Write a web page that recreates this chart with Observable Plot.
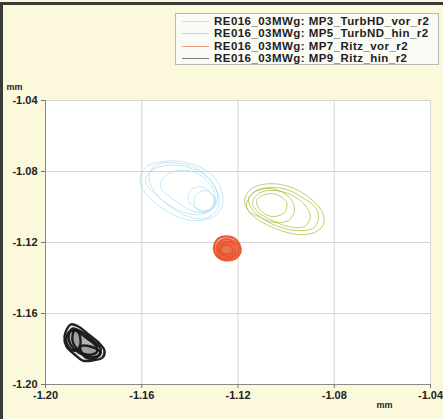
<!DOCTYPE html>
<html>
<head>
<meta charset="utf-8">
<script src="https://cdn.jsdelivr.net/npm/d3@7"></script>
<script src="https://cdn.jsdelivr.net/npm/@observablehq/plot@0.6"></script>
<style>
  html, body { margin: 0; padding: 0; }
  body { width: 443px; height: 419px; overflow: hidden; }
  #wrap { position: relative; width: 443px; height: 419px; background: #fbf8dc; font-family: "Liberation Sans", Arial, sans-serif; }
  #wrap svg { position: absolute; left: 0; top: 0; }
  #bt { position: absolute; left: 0; top: 2px; width: 443px; height: 3px; background: #3a3a3a; }
  #bl { position: absolute; left: 0; top: 2px; width: 3px; height: 417px; background: #3a3a3a; }
  #legend { position: absolute; left: 175px; top: 13px; width: 264px; height: 52px; background: #fbfbf5; border: 1px solid #b8b8b8; box-sizing: border-box; overflow: hidden; }
  .row { position: absolute; left: 0; height: 12px; width: 100%; }
  .row .sw { position: absolute; left: 6px; top: 6px; width: 27px; height: 0; border-top: 1px solid; }
  .row .lb { position: absolute; left: 38px; top: 0; font-size: 11.5px; font-weight: bold; color: #1e1e1e; white-space: nowrap; line-height: 12px; letter-spacing: 0.45px; }
</style>
</head>
<body>
<div id="wrap"></div>
<script>
// ---- data (mm) ----
const seriesNames = [
  "RE016_03MWg: MP3_TurbHD_vor_r2",
  "RE016_03MWg: MP5_TurbND_hin_r2",
  "RE016_03MWg: MP7_Ritz_vor_r2",
  "RE016_03MWg: MP9_Ritz_hin_r2"
];
const seriesColors = ["#8fcfee", "#a3c23c", "#e8532b", "#161616"];
const xTicks = [-1.20, -1.16, -1.12, -1.08, -1.04];
const yTicks = [-1.20, -1.16, -1.12, -1.08, -1.04];
const tickLabels = ["-1.20", "-1.16", "-1.12", "-1.08", "-1.04"];

// MP3 orbit loops [x, y]
const mp3Loops = [
  [[-1.1605,-1.0823],[-1.1572,-1.0766],[-1.1514,-1.0744],[-1.1439,-1.0744],[-1.1364,-1.0772],[-1.1302,-1.0828],[-1.1269,-1.0907],[-1.1264,-1.0986],[-1.1293,-1.1048],[-1.1356,-1.1076],[-1.1431,-1.1065],[-1.1501,-1.1020],[-1.1564,-1.0952],[-1.1601,-1.0885]],
  [[-1.1584,-1.0839],[-1.1555,-1.0789],[-1.1497,-1.0766],[-1.1422,-1.0772],[-1.1356,-1.0806],[-1.1306,-1.0862],[-1.1285,-1.0941],[-1.1302,-1.1008],[-1.1356,-1.1042],[-1.1422,-1.1031],[-1.1489,-1.0986],[-1.1547,-1.0924],[-1.1580,-1.0873]],
  [[-1.1522,-1.0862],[-1.1481,-1.0806],[-1.1406,-1.0794],[-1.1339,-1.0839],[-1.1298,-1.0918],[-1.1306,-1.0997],[-1.1356,-1.1031],[-1.1414,-1.1008],[-1.1472,-1.0952],[-1.1514,-1.0907]],
  [[-1.1564,-1.0794],[-1.1522,-1.0755],[-1.1447,-1.0755],[-1.1372,-1.0783],[-1.1314,-1.0851],[-1.1281,-1.0935],[-1.1289,-1.1020],[-1.1339,-1.1065],[-1.1406,-1.1054],[-1.1472,-1.1008],[-1.1530,-1.0941],[-1.1564,-1.0873]],
  [[-1.1397,-1.0907],[-1.1356,-1.0885],[-1.1314,-1.0918],[-1.1298,-1.0975],[-1.1323,-1.1020],[-1.1372,-1.1008],[-1.1406,-1.0963]],
  [[-1.1377,-1.0935],[-1.1335,-1.0907],[-1.1293,-1.0952],[-1.1306,-1.1008],[-1.1348,-1.1031],[-1.1381,-1.0992]]
];
// MP5 orbit loops
const mp5Loops = [
  [[-1.1173,-1.0963],[-1.1148,-1.0901],[-1.1098,-1.0873],[-1.1023,-1.0873],[-1.0949,-1.0907],[-1.0890,-1.0963],[-1.0849,-1.1031],[-1.0845,-1.1099],[-1.0882,-1.1144],[-1.0949,-1.1155],[-1.1023,-1.1132],[-1.1098,-1.1087],[-1.1152,-1.1031]],
  [[-1.1156,-1.0952],[-1.1123,-1.0907],[-1.1065,-1.0890],[-1.0998,-1.0901],[-1.0940,-1.0941],[-1.0882,-1.0997],[-1.0865,-1.1065],[-1.0890,-1.1121],[-1.0957,-1.1132],[-1.1032,-1.1110],[-1.1098,-1.1065],[-1.1144,-1.1008]],
  [[-1.1165,-1.0986],[-1.1140,-1.0924],[-1.1090,-1.0896],[-1.1032,-1.0907],[-1.0982,-1.0952],[-1.0965,-1.1020],[-1.0990,-1.1076],[-1.1048,-1.1087],[-1.1115,-1.1054],[-1.1156,-1.1020]],
  [[-1.1140,-1.0975],[-1.1106,-1.0918],[-1.1048,-1.0907],[-1.0982,-1.0930],[-1.0924,-1.0986],[-1.0899,-1.1054],[-1.0924,-1.1110],[-1.0990,-1.1110],[-1.1057,-1.1076],[-1.1115,-1.1031]],
  [[-1.1123,-1.0963],[-1.1090,-1.0930],[-1.1040,-1.0930],[-1.0998,-1.0975],[-1.1007,-1.1031],[-1.1057,-1.1054],[-1.1106,-1.1020]]
];
// MP7 orbit loops
const mp7Loops = [
  [[-1.1298,-1.1211],[-1.1281,-1.1177],[-1.1248,-1.1166],[-1.1215,-1.1177],[-1.1194,-1.1211],[-1.1190,-1.1256],[-1.1210,-1.1290],[-1.1248,-1.1301],[-1.1281,-1.1285],[-1.1298,-1.1251]],
  [[-1.1289,-1.1223],[-1.1269,-1.1189],[-1.1235,-1.1183],[-1.1206,-1.1206],[-1.1198,-1.1251],[-1.1223,-1.1285],[-1.1260,-1.1290],[-1.1285,-1.1262]],
  [[-1.1281,-1.1228],[-1.1260,-1.1200],[-1.1227,-1.1200],[-1.1210,-1.1234],[-1.1219,-1.1273],[-1.1252,-1.1279],[-1.1277,-1.1256]],
  [[-1.1273,-1.1234],[-1.1252,-1.1211],[-1.1227,-1.1223],[-1.1223,-1.1256],[-1.1248,-1.1268],[-1.1269,-1.1256]]
];
// MP9 orbit loops
const mp9Loops = [
  [[-1.1896,-1.1662],[-1.1863,-1.1673],[-1.1821,-1.1718],[-1.1780,-1.1763],[-1.1755,-1.1808],[-1.1763,-1.1848],[-1.1805,-1.1865],[-1.1846,-1.1865],[-1.1879,-1.1831],[-1.1913,-1.1786],[-1.1921,-1.1730]],
  [[-1.1888,-1.1685],[-1.1846,-1.1707],[-1.1805,-1.1752],[-1.1771,-1.1797],[-1.1780,-1.1837],[-1.1821,-1.1842],[-1.1863,-1.1820],[-1.1896,-1.1775],[-1.1904,-1.1730]],
  [[-1.1879,-1.1696],[-1.1838,-1.1730],[-1.1788,-1.1786],[-1.1788,-1.1820],[-1.1830,-1.1831],[-1.1871,-1.1797],[-1.1888,-1.1752]],
  [[-1.1904,-1.1707],[-1.1871,-1.1696],[-1.1855,-1.1741],[-1.1863,-1.1797],[-1.1888,-1.1808],[-1.1913,-1.1763]],
  [[-1.1855,-1.1786],[-1.1813,-1.1786],[-1.1771,-1.1820],[-1.1796,-1.1854],[-1.1838,-1.1842]]
];

// ---- build rows ----
const allLoops = [mp3Loops, mp5Loops, mp7Loops, mp9Loops];
const rows = [];
allLoops.forEach((loops, s) => {
  loops.forEach((loop, i) => {
    loop.forEach(([x, y]) => rows.push({series: seriesNames[s], id: s + "-" + i, x, y}));
  });
});
const bySeries = s => rows.filter(r => r.series === seriesNames[s]);
const strokeW = [0.7, 0.9, 2.2, 2.4];
const strokeO = [0.75, 0.85, 0.95, 0.95];
const fillO = [0, 0, 0.35, 0.12];

const fmt = d => tickLabels[xTicks.indexOf(d)] ?? d.toFixed(2);

const chart = Plot.plot({
  width: 443,
  height: 419,
  marginLeft: 45,
  marginRight: 13,
  marginTop: 100,
  marginBottom: 35,
  style: {background: "transparent", fontFamily: "Liberation Sans, Arial, sans-serif", fontSize: "11px", fontWeight: "bold", color: "#222"},
  x: {domain: [-1.20, -1.04], ticks: xTicks, tickFormat: fmt, label: null},
  y: {domain: [-1.20, -1.04], ticks: yTicks, tickFormat: fmt, label: null},
  marks: [
    Plot.frame({fill: "white", stroke: "#c8c8c8"}),
    Plot.gridX(xTicks, {stroke: "#d6d6d6", strokeOpacity: 1}),
    Plot.gridY(yTicks, {stroke: "#d6d6d6", strokeOpacity: 1}),
    ...[0, 1, 2, 3].map(s => Plot.line(bySeries(s), {
      x: "x", y: "y", z: "id", curve: "catmull-rom-closed",
      stroke: seriesColors[s], strokeWidth: strokeW[s], strokeOpacity: strokeO[s],
      fill: fillO[s] > 0 ? seriesColors[s] : "none", fillOpacity: fillO[s]
    })),
    Plot.ruleX([-1.20], {stroke: "#8a8a8a"}),
    Plot.ruleY([-1.20], {stroke: "#8a8a8a"}),
    Plot.axisX(xTicks, {tickSize: 4, tickPadding: 3, stroke: "#777", tickFormat: fmt, fill: "#222"}),
    Plot.axisY(yTicks, {tickSize: 4, tickPadding: 4, stroke: "#777", tickFormat: fmt, fill: "#222"}),
    Plot.text(["mm"], {frameAnchor: "top-left", dx: -39, dy: -17, textAnchor: "start", fontSize: 9, fill: "#222"}),
    Plot.text(["mm"], {frameAnchor: "bottom-right", dx: -46, dy: 23, textAnchor: "middle", fontSize: 9, fill: "#222"})
  ]
});

const wrap = document.getElementById("wrap");
wrap.appendChild(chart);
const bt = document.createElement("div"); bt.id = "bt"; wrap.appendChild(bt);
const bl = document.createElement("div"); bl.id = "bl"; wrap.appendChild(bl);

const legend = document.createElement("div");
legend.id = "legend";
seriesNames.forEach((name, i) => {
  const row = document.createElement("div");
  row.className = "row";
  row.style.top = (1 + i * 12.3) + "px";
  const sw = document.createElement("div");
  sw.className = "sw";
  sw.style.borderTopColor = seriesColors[i];
  sw.style.opacity = 0.55;
  const lb = document.createElement("div");
  lb.className = "lb";
  lb.textContent = name;
  row.appendChild(sw); row.appendChild(lb);
  legend.appendChild(row);
});
wrap.appendChild(legend);
</script>
</body>
</html>
